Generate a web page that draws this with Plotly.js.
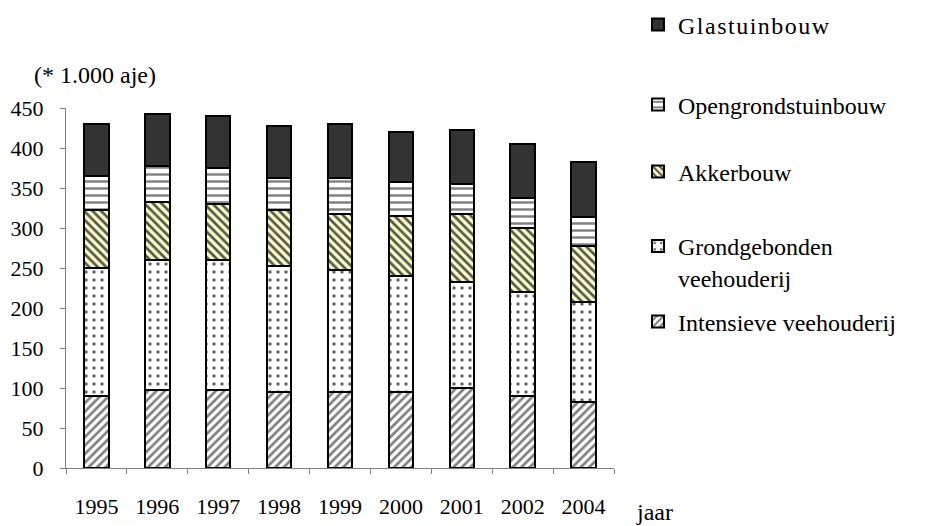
<!DOCTYPE html>
<html>
<head>
<meta charset="utf-8">
<script src="https://cdn.plot.ly/plotly-3.0.1.min.js"></script>
<style>
html,body{margin:0;padding:0;background:#fff;}
#chart{width:927px;height:526px;}
.legendtext{letter-spacing:1.5px;}
</style>
</head>
<body>
<div id="chart"></div>
<script>
const years = ['1995','1996','1997','1998','1999','2000','2001','2002','2004'];
const intensieve = [90, 97, 97, 95, 95, 95, 100, 90, 82];
const grondgebonden = [160, 163, 163, 158, 152, 145, 132, 130, 125];
const akkerbouw = [73, 72, 70, 70, 70, 75, 85, 80, 70];
const opengrond = [42, 45, 45, 39, 45, 43, 38, 38, 37];
const glastuinbouw = [65, 65, 65, 66, 68, 62, 67, 67, 68];
const yTicks = [0, 50, 100, 150, 200, 250, 300, 350, 400, 450];

const FONT = '"Liberation Serif"';
const outline = {color: '#000000', width: 2};

const traces = [
  {type:'bar', name:'Intensieve veehouderij', x: years, y: intensieve, legend:'legend5',
   marker:{color:'#ffffff', line: outline,
     pattern:{shape:'/', bgcolor:'#ffffff', fgcolor:'#7f7f7f', size:6, solidity:0.45}}},
  {type:'bar', name:'Grondgebonden<br>veehouderij', x: years, y: grondgebonden, legend:'legend4',
   marker:{color:'#ffffff', line: outline,
     pattern:{shape:'.', bgcolor:'#ffffff', fgcolor:'#666666', size:8, solidity:0.15}}},
  {type:'bar', name:'Akkerbouw', x: years, y: akkerbouw, legend:'legend3',
   marker:{color:'#ffffc0', line: outline,
     pattern:{shape:'\\', bgcolor:'#ffffc0', fgcolor:'#555555', size:6, solidity:0.45}}},
  {type:'bar', name:'Opengrondstuinbouw', x: years, y: opengrond, legend:'legend2',
   marker:{color:'#ffffff', line: outline,
     pattern:{shape:'-', bgcolor:'#ffffff', fgcolor:'#808080', size:7, solidity:0.35}}},
  {type:'bar', name:'Glastuinbouw', x: years, y: glastuinbouw, legend:'legend',
   marker:{color:'#333333', line: outline}}
];

function leg(yPix, valign){
  return {
    xref:'container', yref:'container',
    x: 638/927, y: 1 - yPix/526, xanchor:'left', yanchor:'middle',
    bgcolor:'rgba(0,0,0,0)', borderwidth:0,
    font:{family: FONT, size:24, color:'#000000'},
    itemwidth:30, valign: valign || 'middle',
    itemclick:false, itemdoubleclick:false
  };
}

const layout = {
  width: 927, height: 526,
  margin: {l:66, r:313, t:108, b:58},
  paper_bgcolor:'#ffffff', plot_bgcolor:'#ffffff',
  barmode:'stack', bargap:0.6,
  font:{family: FONT, size:22, color:'#000000'},
  showlegend:true,
  legend: leg(25),
  legend2: leg(105),
  legend3: leg(172),
  legend4: leg(262, 'top'),
  legend5: leg(322),
  xaxis:{type:'category', tickson:'boundaries', ticks:'outside', ticklen:5, tickcolor:'#808080',
    showline:true, linecolor:'#808080', linewidth:1, showgrid:false, zeroline:false,
    ticklabelstandoff:19, tickfont:{family: FONT, size:22, color:'#000000'}, fixedrange:true},
  yaxis:{range:[0,450], tickvals: yTicks, ticks:'outside', ticklen:5, tickcolor:'#808080',
    showline:true, linecolor:'#808080', linewidth:1, showgrid:false, zeroline:false,
    ticklabelstandoff:12, tickfont:{family: FONT, size:22, color:'#000000'}, fixedrange:true},
  annotations:[
    {xref:'paper', yref:'paper', x:0, y:1, xanchor:'left', yanchor:'bottom', showarrow:false,
     text:'(* 1.000 aje)', font:{family: FONT, size:24, color:'#000000'}, xshift:-34, yshift:18},
    {xref:'paper', yref:'paper', x:1, y:0, xanchor:'left', yanchor:'middle', showarrow:false,
     text:'jaar', font:{family: FONT, size:24, color:'#000000'}, xshift:20, yshift:-44}
  ]
};

Plotly.newPlot('chart', traces, layout, {displayModeBar:false});
</script>
</body>
</html>
